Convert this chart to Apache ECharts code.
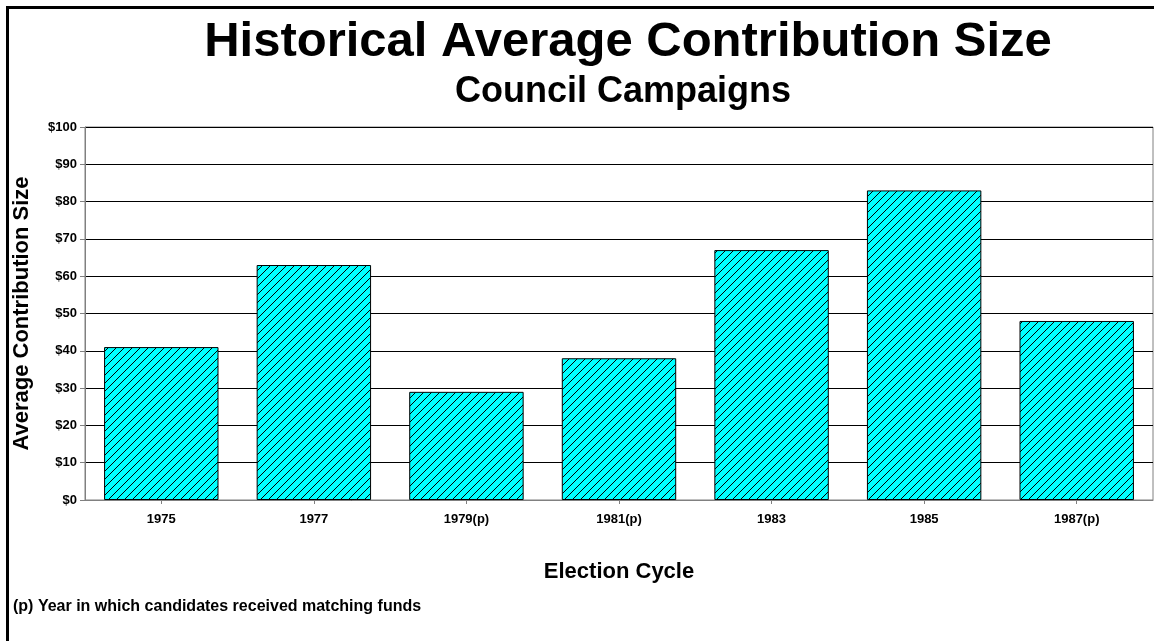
<!DOCTYPE html>
<html>
<head>
<meta charset="utf-8">
<script src="https://cdn.jsdelivr.net/npm/echarts@6/dist/echarts.min.js"></script>
<style>
html,body{margin:0;padding:0;background:#fff;}
#c{width:1154px;height:641px;}
</style>
</head>
<body>
<div id="c"></div>
<script>
const categories = ['1975', '1977', '1979(p)', '1981(p)', '1983', '1985', '1987(p)'];
const values = [41, 63, 29, 38, 67, 83, 48];
const yTicks = [0, 10, 20, 30, 40, 50, 60, 70, 80, 90, 100];

function hatch() {
  const s = 8;
  const cv = document.createElement('canvas');
  cv.width = s; cv.height = s;
  const g = cv.getContext('2d');
  g.fillStyle = '#00FFFF';
  g.fillRect(0, 0, s, s);
  g.strokeStyle = '#000';
  g.lineWidth = 1;
  g.beginPath();
  g.moveTo(-1, s + 1); g.lineTo(s + 1, -1);
  g.moveTo(-1, 1); g.lineTo(1, -1);
  g.moveTo(s - 1, s + 1); g.lineTo(s + 1, s - 1);
  g.stroke();
  return cv;
}

const chart = echarts.init(document.getElementById('c'), null, {renderer: 'canvas'});
const narrow = "'Liberation Sans Narrow', 'Arial Narrow', 'Liberation Sans', Arial, sans-serif";
const sans = "'Liberation Sans', Arial, sans-serif";
chart.setOption({
  animation: false,
  backgroundColor: '#fff',
  title: [
    {text: 'Historical Average Contribution Size', left: 623, top: 13, textAlign: 'center',
     textStyle: {fontFamily: sans, fontWeight: 'bold', fontSize: 49, color: '#000'}},
    {text: 'Council Campaigns', left: 618, top: 69, textAlign: 'center',
     textStyle: {fontFamily: sans, fontWeight: 'bold', fontSize: 36, color: '#000'}}
  ],
  grid: {left: 85, right: 1, top: 127, bottom: 141, show: true, borderColor: '#808080', borderWidth: 1, containLabel: false},
  xAxis: {
    type: 'category', data: categories,
    name: 'Election Cycle', nameLocation: 'middle', nameGap: 61,
    nameTextStyle: {fontFamily: sans, fontWeight: 'bold', fontSize: 22, color: '#000'},
    axisLine: {lineStyle: {color: '#808080', width: 1}},
    axisTick: {show: true, alignWithLabel: true, length: 4, lineStyle: {color: '#808080'}},
    axisLabel: {fontFamily: narrow, fontWeight: 'bold', fontSize: 13, color: '#000', margin: 13}
  },
  yAxis: {
    type: 'value', min: 0, max: 100, interval: 10,
    name: 'Average Contribution Size', nameLocation: 'middle', nameGap: 52, nameRotate: 90,
    nameTextStyle: {fontFamily: sans, fontWeight: 'bold', fontSize: 22, color: '#000'},
    axisLine: {show: true, lineStyle: {color: '#808080', width: 1}},
    axisTick: {show: true, length: 5, lineStyle: {color: '#808080'}},
    axisLabel: {fontFamily: narrow, fontWeight: 'bold', fontSize: 13, color: '#000', margin: 8,
      formatter: v => yTicks.includes(v) ? '$' + v : ''},
    splitLine: {show: true, lineStyle: {color: '#000', width: 1}}
  },
  series: [{
    type: 'bar', data: values, barCategoryGap: '25%',
    itemStyle: {color: {image: hatch(), repeat: 'repeat'}, borderColor: '#000', borderWidth: 1}
  }],
  graphic: [
    {type: 'rect', shape: {x: 7.5, y: 7.5, width: 1300, height: 800}, style: {fill: 'none', stroke: '#000', lineWidth: 3}, silent: true},
    {type: 'text', left: 13, top: 599, style: {text: '(p) Year in which candidates received matching funds', font: "bold 16px " + narrow, fill: '#000'}}
  ]
});
</script>
</body>
</html>
